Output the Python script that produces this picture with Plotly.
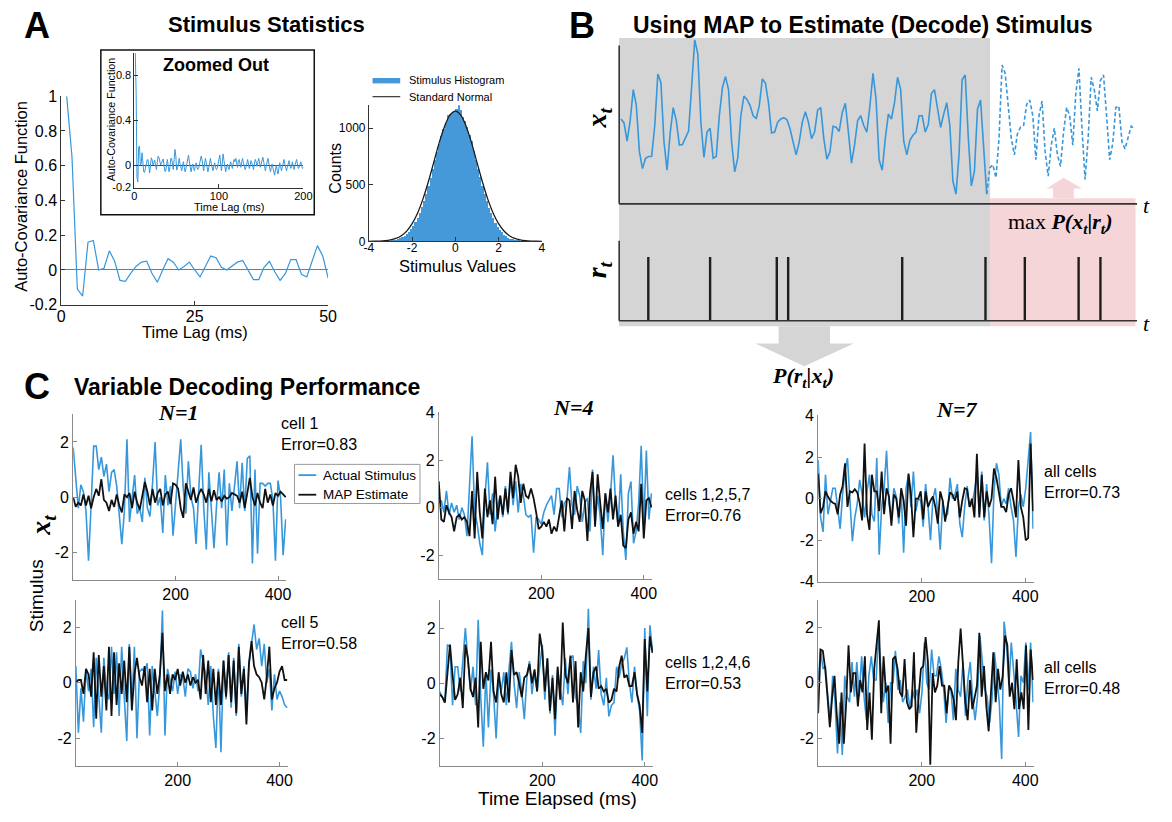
import numpy as np
import plotly.graph_objects as go

W, H = 1172, 822
def X(px): return px / W
def Y(py): return 1 - py / H

BLUE = "#3797db"
HIST_BLUE = "#4599d8"
BLACK = "#111111"
SANS = "Liberation Sans, Arial, sans-serif"
SERIF = "Liberation Serif, Times New Roman, serif"

# ---------------- Panel A data ----------------
ACF_LAGS_MAIN = list(range(1, 51))
ACF_MAIN = [1.0, 0.65, -0.11, -0.15, 0.16, 0.17, 0.0, 0.01, 0.11, 0.05,
            -0.06, -0.065, -0.02, 0.02, 0.045, 0.05, -0.02, -0.07, 0.0, 0.065,
            0.045, 0.0, 0.02, 0.045, 0.0, -0.04, 0.02, 0.08, 0.07, 0.015,
            0.0, 0.02, 0.045, 0.055, 0.0, -0.055, -0.055, 0.015, 0.05, -0.01,
            -0.06, -0.02, 0.06, 0.06, -0.025, -0.04, 0.05, 0.14, 0.08, -0.045]
ACF_TAIL = [-0.03, 0.02, 0.06, 0.01, -0.04, -0.05, 0.00, 0.03, -0.02, -0.06,
            -0.03, 0.02, 0.07, 0.09, 0.03, -0.05, -0.06, -0.02, 0.01, -0.03,
            -0.05, -0.01, 0.02, -0.02, -0.04, -0.03, 0.01, 0.04, 0.08, 0.05,
            -0.02, -0.05, 0.01, 0.06, 0.02, -0.03, -0.06, -0.02, 0.03, 0.06,
            0.01, -0.04, -0.05, -0.01, 0.02, -0.02, -0.04, -0.03, 0.00, 0.05,
            0.09, 0.03, -0.05, 0.02, 0.10, 0.04, -0.03, -0.06, -0.02, 0.01,
            -0.02, -0.04, 0.00, 0.03, -0.01, -0.03, 0.02, 0.05, 0.03, 0.06,
            0.02, -0.02, 0.04, 0.05, 0.01, -0.02, 0.03, 0.06, 0.02, -0.01,
            -0.04, -0.02, 0.03, 0.05, 0.01, -0.03, 0.00, 0.04, 0.02, -0.02,
            -0.04, 0.01, 0.05, 0.03, -0.01, 0.02, 0.06, 0.03, -0.02, 0.01,
            0.05, 0.07, 0.03, -0.02, -0.05, -0.01, 0.03, 0.06, 0.02, -0.03,
            -0.06, -0.02, 0.01, -0.03, -0.07, -0.09, -0.04, 0.00, -0.05, -0.08,
            -0.03, 0.02, -0.01, -0.05, -0.02, 0.03, 0.05, 0.01, -0.03, -0.05,
            -0.02, 0.02, 0.04, 0.00, -0.03, -0.01, 0.03, -0.02, -0.04, 0.00,
            0.02, 0.05, 0.01, -0.03, -0.02, 0.02, 0.03, -0.01, -0.03, -0.02]
ACF_LAGS_FULL = list(range(1, 201))

HIST_COUNTS = [5, 8, 12, 18, 25, 35, 48, 60, 82, 105,
               130, 165, 205, 250, 300, 355, 420, 490, 560, 640,
               715, 790, 860, 930, 990, 1045, 1110, 1120, 1130, 1140,
               1170, 1205, 1160, 1100, 1060, 1005, 940, 880, 800, 720,
               640, 565, 490, 420, 350, 295, 245, 200, 160, 125,
               100, 78, 58, 44, 32, 22, 15, 10, 6, 4]
HIST_BIN_START, HIST_BIN_WIDTH = -3.0, 0.1
NORMAL_X = [-4, -3.75, -3.5, -3.25, -3, -2.75, -2.5, -2.25, -2, -1.75, -1.5, -1.25, -1, -0.75, -0.5, -0.25, 0,
            0.25, 0.5, 0.75, 1, 1.25, 1.5, 1.75, 2, 2.25, 2.5, 2.75, 3, 3.25, 3.5, 3.75, 4]
NORMAL_Y = [0.4, 1.0, 2.5, 5.9, 12.8, 26, 50, 91, 156, 249, 373, 526, 697, 870, 1015, 1115, 1150,
            1115, 1015, 870, 697, 526, 373, 249, 156, 91, 50, 26, 12.8, 5.9, 2.5, 1.0, 0.4]

# ---------------- Panel B data ----------------
B_STIM_OBSERVED = [2.60, 2.48, 1.92, 2.55, 3.50, 3.02, 1.60, 1.08, 1.40, 1.45,
                   1.46, 2.40, 3.98, 3.72, 1.90, 1.03, 2.15, 2.95, 2.55, 1.80,
                   1.82, 2.05, 2.23, 3.60, 5.02, 4.60, 2.50, 1.42, 2.20, 2.32,
                   1.40, 1.45, 2.70, 3.55, 3.90, 3.50, 1.90, 0.98, 1.40, 2.70,
                   3.30, 3.20, 3.02, 2.70, 2.62, 3.00, 3.83, 3.70, 3.10, 2.17,
                   2.20, 2.50, 2.60, 2.64, 2.58, 2.30, 1.90, 1.50, 1.90, 2.50,
                   2.82, 2.50, 2.00, 2.20, 2.88, 2.95, 2.00, 1.37, 1.60, 2.38,
                   2.35, 2.22, 2.80, 3.08, 2.20, 1.25, 1.80, 2.55, 2.70, 2.40,
                   2.20, 3.00, 4.00, 3.20, 1.35, 1.03, 2.00, 2.75, 2.60, 3.10,
                   3.88, 3.50, 1.92, 1.50, 1.95, 2.10, 2.20, 2.70, 2.70, 2.20,
                   2.44, 3.38, 3.50, 2.85, 2.34, 2.75, 3.10, 2.40, 0.70, 0.30,
                   1.50, 3.80, 3.95, 2.05, 0.55, 1.00, 2.90, 3.18, 1.60, 0.30]
B_STIM_DECODED = [1.10, 1.20, 0.80, 2.00, 4.25, 4.00, 3.00, 2.00, 1.50,
                  2.15, 2.35, 2.40, 3.05, 3.18, 2.70, 1.35, 2.70, 3.15, 1.60,
                  0.85, 1.80, 2.32, 1.50, 1.15, 2.20, 2.95, 2.70, 1.80, 3.40,
                  4.15, 2.30, 0.75, 2.00, 3.88, 3.50, 2.85, 3.78, 3.95, 2.70,
                  1.35, 1.85, 2.95, 3.00, 1.90, 1.68, 2.00, 2.38, 2.30]
B_SPIKE_TIMES = [8.9, 29.0, 50.7, 54.4, 91.5, 118.6, 131.4, 148.9, 156.0]

# ---------------- Panel C data ----------------
T_END = 415
C11_STIM = [1.8, 0.6, -0.4, 0.45, 0.2, -0.5, -2.3, -0.3, 1.85, 1.85,
            1.0, 1.45, 0.75, 1.2, 0.2, 0.9, 1.0, 0.4, -0.8, -1.7,
            -0.5, 2.1, -0.9, 0.0, 0.8, -0.6, -0.4, -0.9, 0.7, -0.4,
            -0.7, 0.5, 2.0, -0.3, 0.0, -1.3, 0.8, -0.3, 0.4, -1.4,
            -0.3, 1.0, 2.1, 0.3, -0.6, 1.3, 0.0, -0.4, -1.7, 0.2,
            1.9, -0.4, -1.9, 0.9, -0.6, -1.85, -0.3, 0.9, -0.4, 1.0,
            -1.75, 0.5, -0.5, 0.3, 1.3, -0.4, 1.25, -0.5, 1.4, 1.5,
            -2.4, 1.0, -2.05, 0.5, 0.5, 0.4, 0.5, 0.5, -0.1, -2.3,
            0.6, 0.0, -2.1, -0.8]
C11_MAP = [0.0, -0.35, -0.2, -0.3, 0.1, -0.3, 0.05, -0.4, 0.0, 0.3,
           0.05, 0.65, -0.1, -0.2, -0.5, -0.1, -0.35, 0.1, -0.3, -0.55,
           0.1, 0.0, 0.15, -0.4, 0.2, -0.2, -0.45, 0.0, 0.55, 0.2,
           -0.3, 0.3, -0.2, 0.15, 0.3, -0.3, 0.1, 0.2, -0.25, 0.5,
           0.45, 0.3, -0.4, -0.75, 0.5, 0.2, -0.1, 0.35, -0.2, 0.1,
           0.3, 0.1, -0.2, 0.3, -0.15, 0.25, -0.1, 0.0, -0.15, 0.05,
           -0.05, 0.0, 0.15, 0.1, 0.05, -0.2, 0.2, -0.4, 0.1, 0.7,
           0.0, -0.3, 0.15, -0.2, -0.4, 0.3, -0.2, 0.1, -0.3, 0.15,
           0.05, 0.2, 0.1, 0.0]
C21_STIM = [0.6, -1.8, -0.2, -1.4, 0.5, -0.3, 0.5, -1.6, 0.9, -0.5,
            -1.8, 0.9, -0.3, -0.6, 1.3, -0.4, 1.1, -1.2, 1.3, -0.5,
            -2.1, 1.4, -0.8, 1.3, -2.0, 0.4, 0.5, 0.4, 0.7, -1.9,
            0.6, -0.3, -1.2, 0.0, 2.6, -1.9, 0.5, 0.1, -0.3, 0.4,
            -0.4, 0.3, 0.2, -0.5, 0.5, 0.4, -0.2, 0.3, -0.3, 1.2,
            0.8, 0.3, -0.8, 0.6, -1.2, -2.35, 0.5, -2.5, 0.8, -0.6,
            1.1, -0.9, 0.9, -1.2, 1.4, -0.5, 0.6, -1.0, 0.7, 1.5,
            2.1, 1.2, 1.6, 0.6, 1.4, 0.0, 0.5, -1.0, 0.3, -0.6,
            -0.3, -0.5, -0.8, -0.9]
C21_MAP = [0.0, 0.1, 0.1, -0.4, 0.5, 0.3, -0.5, 1.1, -1.3, 1.0,
           -0.5, 0.6, -1.0, 1.3, -1.2, 1.1, -0.8, 0.7, -0.4, 0.8,
           -0.7, 1.3, -1.0, 0.3, 0.9, 0.2, -0.1, 0.6, -0.7, 0.5,
           -1.0, 0.5, -0.4, 0.3, 1.8, -0.3, 0.3, -0.4, 0.3, 0.1,
           0.5, -0.1, 0.4, 0.0, 0.3, -0.1, 0.2, 0.0, 0.1, -0.6,
           1.0, -0.4, 0.8, -0.7, 0.5, -0.8, 0.4, -0.8, 0.8, -0.5,
           1.0, -0.7, 0.8, -1.1, 1.3, -0.4, 0.5, -1.5, 0.7, 1.5,
           0.6, 0.3, 0.2, 0.0, -0.6, 0.2, 1.3, -0.6, -0.2, 0.0,
           0.4, 0.6, 0.1, 0.1]
C12_STIM = [0.2, 0.3, -0.2, 0.7, -0.3, 0.2, -0.2, 0.1, -0.5, 0.0,
            -0.3, -1.2, 0.9, 3.0, -0.2, -0.7, -1.5, -2.0, 0.4, 1.9,
            -0.3, 0.6, -1.0, 0.1, 0.5, -0.4, 0.9, -0.3, 1.3, 0.1,
            1.1, -0.2, 1.0, 0.5, -0.3, -0.4,
            -0.3, -1.9, -0.4, -0.5, -0.7, -0.2, 0.1, 0.3, 0.5, -0.3,
            0.8, 0.8, -0.4, 0.2, 0.3, 1.7, 0.1, -0.3, 0.9, 0.5,
            -0.6, 0.2, 0.4, -1.0, 1.6, -0.7, 0.5, -0.4, -2.0, 0.6,
            -0.6, 0.5, 2.2, 0.2, -0.8, 1.4, -1.0, -2.2, 0.6, 1.1,
            -1.5, -1.0, 0.2, 2.6, -0.7, 2.4, -0.5, 0.6]
C12_MAP = [1.1, -0.5, -0.6, 0.1, -0.2, -0.4, -1.0, -0.4, -0.3, -0.5,
           -0.4, -0.6, -1.2, 0.7, -1.3, 1.5, -0.2, -1.3, 0.8, -0.4,
           0.3, -0.7, 1.3, -0.5, 0.5, -0.3, 0.8, -0.2, 1.5, 0.4,
           1.8, 1.3, 0.2, 1.0, 0.5, 0.4, 0.8, 0.4, -0.2, -0.9,
           -0.8, -0.6, -0.8, -0.5, -1.1, -0.8, -1.0, -0.4, 0.3, -1.0,
           0.4, 0.3, -0.9, 0.7, -0.1, -0.6, 0.7, 0.3, -1.4, 0.6,
           1.5, -0.8, 1.4, 0.2, -0.9, 0.6, -0.2, 0.8, -0.5, 0.5,
           -0.8, -0.3, -1.6, -1.7, -0.5, -0.2, -1.1, -0.6, -1.0, 1.0,
           -1.3, 0.3, 0.4, 0.0]
C22_STIM = [-0.3, -0.5, -0.7, 1.4, 1.3, -0.8, 0.6, 0.6, -0.3, 0.8,
            2.0, 0.8, -0.3, 0.6, -0.8, 2.3, -0.5, -2.3, 0.4, -1.6,
            0.5, -0.4, -2.0, 0.2, -0.3, 0.4, -0.8, 0.5, 1.5, 0.0,
            -0.9, 0.4, -0.3, -1.3, 0.2, 0.8, -0.4, 0.4, -0.3, 0.6,
            1.4, -0.6, 0.9, -1.1, 0.3, -1.9, 0.5, -0.2, -0.8, 0.9,
            -0.4, 0.9, 1.0, -0.5, -0.8, -1.8, 0.8, 0.0, 2.7, -0.6,
            0.6, -0.2, 1.2, -0.4, -0.8, 0.2, -1.2, -0.8, -0.7, 0.6,
            0.2, 0.7, 0.9, 1.3, 0.0, -0.7, 0.6, -0.4, -1.0, -2.8,
            2.0, -1.2, 2.1, 1.2]
C22_MAP = [-0.4, -0.5, -0.7, 0.5, 1.4, 0.3, -0.6, -0.4, 0.2, -0.9,
           1.4, 0.9, -0.2, -0.5, 0.2, -1.6, 1.5, -0.2, 0.4, 0.1,
           1.5, -0.3, -0.7, 0.4, -0.4, -0.7, 0.4, -0.7, 1.2, 0.3,
           0.4, 0.0, -0.5, 0.2, 0.3, 0.7, 0.0, 0.5, -0.3, 1.8,
           1.2, -0.3, 0.9, -1.0, 0.2, -1.3, 0.6, -0.6, 2.2, 0.3,
           0.0, 1.0, -0.7, 0.8, -1.6, 0.4, -0.3, 1.0, 2.0, -0.5,
           0.4, 0.6, -0.2, -0.1, -0.3, -0.2, -0.7, -0.6, -0.2, -0.3,
           0.6, 1.0, 0.2, 0.3, -0.1, -0.1, 0.4, -0.4, -0.8, -1.8,
           1.6, -0.3, 1.7, 1.1]
C13_STIM = [1.85, -0.9, -1.6, 1.15, -0.75, -0.1, 0.5, 0.5, -0.4, -1.45,
            0.2, 1.3, 1.95, -0.4, -2.05, -0.9, -0.25, 0.9, 0.2, -0.9,
            0.35, 1.15, -0.75, -1.1, 1.95, -2.7, -0.4, 0.5, 2.3, -0.25,
            -0.9, 0.5, 0.1, -1.2, 0.35, -2.6, 0.5, 1.15, -0.4, 1.3,
            -0.6, 0.0, -0.1, -1.35, 0.7, -0.4, -2.0, 0.0, 0.5, -0.75,
            -2.45, -0.1, -0.9, -0.75, 1.0, 0.0, 0.2, 0.7, -1.2, -1.85,
            -0.4, 0.6, -0.4, -0.25, 0.35, 1.15, -0.75, 1.3, -1.05, 0.7,
            -0.9, -3.1, 0.35, 1.7, 1.15, -0.4, 0.0, -0.25, 0.5, -0.4,
            -1.05, -2.8, -0.4, 0.2, -0.4, 0.5, 1.95, 3.2, -1.45]
C13_MAP = [1.2, -0.7, -0.4, 0.35, 0.1, -0.1, -0.2, -0.25, -0.75, 0.2,
           0.6, 1.7, -0.4, 0.35, 0.3, 0.45, 0.3, -0.2, -1.05, 2.65,
           -0.75, -1.5, 1.15, 0.35, 0.35, -0.6, 1.3, -0.75, 0.5, 0.1,
           -1.3, 0.2, 0.0, -0.9, 0.5, -0.1, -1.3, 1.2, 0.2, -1.85,
           0.0, 0.0, 0.35, -1.0, 0.35, -0.4, -0.1, 0.1, -0.4, -1.2,
           0.35, -0.1, -1.1, -0.4, 0.3, 0.2, -0.1, 0.35, -0.9, -0.1,
           0.5, 0.45, -0.4, 0.0, -0.9, 2.15, -0.9, 1.15, -0.9, 0.35,
           -0.4, 0.0, 1.45, 1.0, 0.2, -0.4, -0.4, -0.65, 0.2, 0.5,
           -0.1, -0.9, 1.85, -0.4, -0.9, -2.0, -1.9, 2.65, -0.6]
C23_STIM = [0.1, 1.2, 0.5, 0.6, -0.5, -1.45, 0.25, -0.7, -2.55, -0.7,
            -2.6, 0.25, -0.5, -0.7, 0.75, -0.5, 0.75, -0.5, 0.95, -0.5,
            -1.35, 0.25, 0.95, 0.1, 0.1, 1.7, 0.5, -0.7, 0.0, -1.45,
            0.0, 0.0, 1.15, -0.25, 0.1, -0.7, -0.5, -0.25, -0.95, -0.25,
            -0.6, -0.25, -1.1, -0.35, 1.45, 0.0, -0.25, 1.2, 0.25, 0.25,
            0.95, 0.5, -0.25, -1.45, -0.25, -0.25, -1.35, 0.5, -0.25, -0.5,
            0.75, -1.2, 0.1, 0.75, -0.6, -1.35, -0.5, 1.7, 0.75, -0.25,
            -0.5, -1.45, -0.6, 1.1, 0.25, -0.7, -2.75, 2.2, 1.45, -0.1,
            1.45, 0.5, -0.7, -1.95, 0.25, 0.0, 1.45, -0.25, 1.45, -0.7]
C23_MAP = [-1.1, 1.2, 1.15, 0.5, -0.5, -1.6, -0.5, 0.25, -1.2, -2.2,
           -0.35, -2.2, -0.7, 1.35, -0.35, 0.35, 0.35, -0.85, 0.1, -0.35,
           0.95, -1.7, -0.35, -2.05, 0.5, 1.35, 2.25, -1.1, 0.95, -0.35,
           -0.1, -2.2, 0.85, 0.95, 0.5, -0.35, -0.5, 0.85, -0.7, -0.95,
           -0.85, 1.1, -1.8, -0.5, 0.5, 0.6, 1.65, 0.75, -2.95, 0.35,
           -0.35, -0.1, 0.6, -0.1, -0.1, -1.1, -0.1, -0.25, -0.6, -1.35,
           0.75, 1.95, 0.5, -0.7, -1.35, 0.1, -0.95, -0.5, -0.1, 1.8,
           -0.5, 0.6, -0.85, -1.75, -0.5, 1.1, -0.7, 0.5, -0.25, 0.25,
           1.7, 1.35, -0.5, 0.0, -0.95, 0.85, -0.95, -0.35, -0.95, 1.35,
           -1.7, 1.2, 0.1]

C_LABELS = ["cell 1<br>Error=0.83", "cell 5<br>Error=0.58",
            "cells 1,2,5,7<br>Error=0.76", "cells 1,2,4,6<br>Error=0.53",
            "all cells<br>Error=0.73", "all cells<br>Error=0.48"]
C_TITLES = ["N=1", "N=4", "N=7"]

# ---------------- figure ----------------
fig = go.Figure()
layout = dict(width=W, height=H, margin=dict(l=0, r=0, t=0, b=0), autosize=False,
              paper_bgcolor="white", plot_bgcolor="rgba(0,0,0,0)", showlegend=False,
              font=dict(family=SANS, color="black"))


def fmt(v):
    return "%g" % v


def make_axes(n, xdom, ydom, xr, yr, xt=None, yt=None, color="#333", fs=16, visible=True, xstand=0):
    xa = dict(domain=[X(xdom[0]), X(xdom[1])], range=list(xr), anchor="y%d" % n if n > 1 else "y",
              showgrid=False, zeroline=False, showline=visible, linecolor=color, linewidth=1,
              ticks="inside" if xt else "", ticklen=4, tickcolor=color,
              tickvals=xt, ticktext=[fmt(v) for v in xt] if xt else None,
              showticklabels=bool(xt), tickfont=dict(size=fs, family=SANS, color="black"),
              ticklabelstandoff=xstand, visible=visible, fixedrange=True)
    ya = dict(domain=[Y(ydom[1]), Y(ydom[0])], range=list(yr), anchor="x%d" % n if n > 1 else "x",
              showgrid=False, zeroline=False, showline=visible, linecolor=color, linewidth=1,
              ticks="inside" if yt else "", ticklen=4, tickcolor=color,
              tickvals=yt, ticktext=[fmt(v) for v in yt] if yt else None,
              showticklabels=bool(yt), tickfont=dict(size=fs, family=SANS, color="black"),
              visible=visible, fixedrange=True)
    layout["xaxis" if n == 1 else "xaxis%d" % n] = xa
    layout["yaxis" if n == 1 else "yaxis%d" % n] = ya
    return ("x" if n == 1 else "x%d" % n), ("y" if n == 1 else "y%d" % n)


# A main
xa, ya = make_axes(1, (57, 327), (90, 303), (0, 50), (-0.2, 1.0),
                   xt=[0, 25, 50], yt=[-0.2, 0, 0.2, 0.4, 0.6, 0.8, 1], color="#333", fs=16, xstand=-3)
layout["yaxis"].update(zeroline=True, zerolinecolor="#7a7a7a", zerolinewidth=1)
fig.add_trace(go.Scatter(x=ACF_LAGS_MAIN, y=ACF_MAIN, mode="lines",
                         line=dict(color=BLUE, width=1.2), xaxis=xa, yaxis=ya))

# A inset
xa, ya = make_axes(2, (131, 302), (46, 183.3), (0, 200), (-0.2, 1.0),
                   xt=[0, 100, 200], yt=[-0.2, 0, 0.4, 0.8], color="#333", fs=11, xstand=-2)
layout["yaxis2"].update(zeroline=True, zerolinecolor="#444", zerolinewidth=1)
fig.add_trace(go.Scatter(x=ACF_LAGS_FULL, y=ACF_MAIN + ACF_TAIL, mode="lines",
                         line=dict(color=BLUE, width=1), xaxis=xa, yaxis=ya))

# A histogram
xa, ya = make_axes(3, (368.3, 543.3), (99.3, 238.3), (-4, 4), (0, 1202),
                   xt=[-4, -2, 0, 2, 4], yt=[0, 500, 1000], color="#333", fs=12, xstand=-5)
hist_x = [round(HIST_BIN_START + HIST_BIN_WIDTH * (i + 0.5), 3) for i in range(len(HIST_COUNTS))]
fig.add_trace(go.Bar(x=hist_x, y=HIST_COUNTS, width=HIST_BIN_WIDTH, marker=dict(color=HIST_BLUE, line=dict(width=0)),
                     xaxis=xa, yaxis=ya))
fig.add_trace(go.Scatter(x=NORMAL_X, y=NORMAL_Y, mode="lines", line=dict(color="#1a1a1a", width=1.3, shape="spline"),
                         xaxis=xa, yaxis=ya))
layout["bargap"] = 0

# B top
BX = (621.6, 1145.7)
xa, ya = make_axes(4, BX, (30.7, 200), (-0.58, 167.9), (0, 5.08), visible=False)
n_obs = len(B_STIM_OBSERVED)
t_obs = list(range(n_obs))
t_dec = list(range(n_obs - 1, n_obs + len(B_STIM_DECODED)))
fig.add_trace(go.Scatter(x=t_obs, y=B_STIM_OBSERVED, mode="lines", line=dict(color=BLUE, width=1.6),
                         xaxis=xa, yaxis=ya, cliponaxis=False))
fig.add_trace(go.Scatter(x=t_dec, y=[B_STIM_OBSERVED[-1]] + B_STIM_DECODED, mode="lines",
                         line=dict(color=BLUE, width=1.6, dash="4px,2.5px"), xaxis=xa, yaxis=ya))
# B spikes
xa, ya = make_axes(5, BX, (237.7, 319.3), (-0.58, 167.9), (0, 1.255), visible=False)
sx, sy = [], []
for t in B_SPIKE_TIMES:
    sx += [t, t, None]
    sy += [0, 1, None]
fig.add_trace(go.Scatter(x=sx, y=sy, mode="lines", line=dict(color="#1e1e1e", width=2.4), xaxis=xa, yaxis=ya))

# C panels
C_PANELS = [
    dict(n=6, xd=(69, 284.6), yd=(415, 584), yr=(-3, 3), yt=[-2, 0, 2], s=C11_STIM, m=C11_MAP),
    dict(n=7, xd=(71.7, 286.1), yd=(604, 774), yr=(-3, 3), yt=[-2, 0, 2], s=C21_STIM, m=C21_MAP),
    dict(n=8, xd=(439, 654.8), yd=(413, 583), yr=(-3, 4), yt=[-2, 0, 2, 4], s=C12_STIM, m=C12_MAP),
    dict(n=9, xd=(440, 655.8), yd=(605, 774), yr=(-3, 3), yt=[-2, 0, 2], s=C22_STIM, m=C22_MAP),
    dict(n=10, xd=(823, 1041), yd=(416, 586), yr=(-4, 4), yt=[-4, -2, 0, 2, 4], s=C13_STIM, m=C13_MAP),
    dict(n=11, xd=(823, 1041), yd=(604, 774), yr=(-3, 3), yt=[-2, 0, 2], s=C23_STIM, m=C23_MAP),
]
for p in C_PANELS:
    xa, ya = make_axes(p["n"], p["xd"], p["yd"], (0, T_END + 1), p["yr"], xt=[200, 400], yt=p["yt"],
                       color="#8a8a8a", fs=16)
    ts = np.linspace(0, T_END, len(p["s"]))
    tm = np.linspace(0, T_END, len(p["m"]))
    fig.add_trace(go.Scatter(x=ts, y=p["s"], mode="lines", line=dict(color=BLUE, width=1.6), xaxis=xa, yaxis=ya))
    fig.add_trace(go.Scatter(x=tm, y=p["m"], mode="lines", line=dict(color=BLACK, width=1.8), xaxis=xa, yaxis=ya))

# ---------------- shapes ----------------
def rect(x0, y0, x1, y1, fill, line=None, lw=0, layer="below"):
    return dict(type="rect", xref="paper", yref="paper", x0=X(x0), x1=X(x1), y0=Y(y1), y1=Y(y0),
                fillcolor=fill, line=dict(color=line or fill, width=lw), layer=layer)

def seg(x0, y0, x1, y1, color, width, layer="above"):
    return dict(type="line", xref="paper", yref="paper", x0=X(x0), x1=X(x1), y0=Y(y0), y1=Y(y1),
                line=dict(color=color, width=width), layer=layer)

def poly(pts, fill, layer="below"):
    d = "M " + " L ".join("%f,%f" % (X(a), Y(b)) for a, b in pts) + " Z"
    return dict(type="path", xref="paper", yref="paper", path=d, fillcolor=fill, line=dict(width=0), layer=layer)

GRAY = "#d5d5d5"
PINK = "#f6d5d8"
shapes = [
    rect(97, 43, 313, 211, "white", line="#111", lw=1.5),
    rect(621.5, 30.7, 997, 325, GRAY),
    rect(997, 194.3, 1144.2, 325, PINK),
    poly([(1054, 184.3), (1071.4, 173.3), (1090, 184.3), (1081.8, 184.3), (1081.8, 194.3),
          (1060.7, 194.3), (1060.7, 184.3)], PINK),
    poly([(783, 325), (835, 325), (835, 342.7), (859, 342.7), (809, 365.7), (759.6, 342.7), (783, 342.7)], GRAY),
    seg(621.6, 38.3, 621.6, 200, "#333", 1.6),
    seg(621.6, 200, 1145.7, 200, "#333", 1.6),
    seg(621.6, 237.7, 621.6, 319.3, "#333", 1.6),
    seg(621.6, 319.3, 1145.7, 319.3, "#333", 1.6),
    # histogram legend
    rect(372, 71.5, 400, 77, HIST_BLUE, layer="above"),
    seg(372, 90.5, 400, 90.5, "#444", 1.3),
    # C legend
    rect(293, 466, 420, 506, "white", line="#999", lw=1, layer="above"),
    seg(297, 477, 315, 477, BLUE, 1.8),
    seg(297, 497, 315, 497, BLACK, 1.8),
]
layout["shapes"] = shapes

# ---------------- annotations ----------------
def ann(px, py, text, size, xanchor="center", family=SANS, angle=0):
    return dict(x=X(px), y=Y(py), xref="paper", yref="paper", text=text, showarrow=False,
                xanchor=xanchor, yanchor="middle", textangle=angle,
                align="left" if xanchor == "left" else "center",
                font=dict(size=size, family=family, color="black"))

anns = [
    ann(32, 18, "<b>A</b>", 36),
    ann(265, 17, "<b>Stimulus Statistics</b>", 22),
    ann(584, 18, "<b>B</b>", 36),
    ann(868, 17, "<b>Using MAP to Estimate (Decode) Stimulus</b>", 23),
    ann(32, 387, "<b>C</b>", 36),
    ann(245, 387, "<b>Variable Decoding Performance</b>", 23),
    # A main
    ann(16, 192, "Auto-Covariance Function", 16.5, angle=-90),
    ann(192, 331, "Time Lag (ms)", 16.5),
    # inset
    ann(214, 58, "<b>Zoomed Out</b>", 18),
    ann(107, 114, "Auto-Covariance Function", 10.7, angle=-90),
    ann(227, 203.5, "Time Lag (ms)", 11),
    # histogram
    ann(407, 74, "Stimulus Histogram", 11, xanchor="left"),
    ann(407, 90.5, "Standard Normal", 11, xanchor="left"),
    ann(335, 163, "Counts", 16, angle=-90),
    ann(458, 263, "Stimulus Values", 16.5),
    # B
    ann(601, 112, "<b><i>x<sub>t</sub></i></b>", 28, family=SERIF, angle=-90),
    ann(601, 267, "<b><i>r<sub>t</sub></i></b>", 28, family=SERIF, angle=-90),
    ann(1155, 202, "<i>t</i>", 22, family=SERIF),
    ann(1155, 322, "<i>t</i>", 22, family=SERIF),
    ann(1068, 220, "max <b><i>P(x<sub>t</sub>|r<sub>t</sub>)</i></b>", 22, family=SERIF),
    ann(808, 377, "<b><i>P(r<sub>t</sub>|x<sub>t</sub>)</i></b>", 22, family=SERIF),
    # C
    ann(175, 413, "<b><i>%s</i></b>" % C_TITLES[0], 22, family=SERIF),
    ann(575, 408, "<b><i>%s</i></b>" % C_TITLES[1], 22, family=SERIF),
    ann(963, 410, "<b><i>%s</i></b>" % C_TITLES[2], 22, family=SERIF),
    ann(277, 435, C_LABELS[0], 16, xanchor="left"),
    ann(277, 638, C_LABELS[1], 16, xanchor="left"),
    ann(666, 508, C_LABELS[2], 16, xanchor="left"),
    ann(666, 679, C_LABELS[3], 16, xanchor="left"),
    ann(1050, 484, C_LABELS[4], 16, xanchor="left"),
    ann(1050, 684, C_LABELS[5], 16, xanchor="left"),
    ann(320, 477, "Actual Stimulus", 13.5, xanchor="left"),
    ann(320, 497, "MAP Estimate", 13.5, xanchor="left"),
    ann(32, 600, "Stimulus", 19, angle=-90),
    ann(38, 528, "<b><i>x<sub>t</sub></i></b>", 28, family=SERIF, angle=-90),
    ann(559, 807, "Time Elapsed (ms)", 19),
]
layout["annotations"] = anns

fig.update_layout(**layout)
fig.write_html("out.html")
